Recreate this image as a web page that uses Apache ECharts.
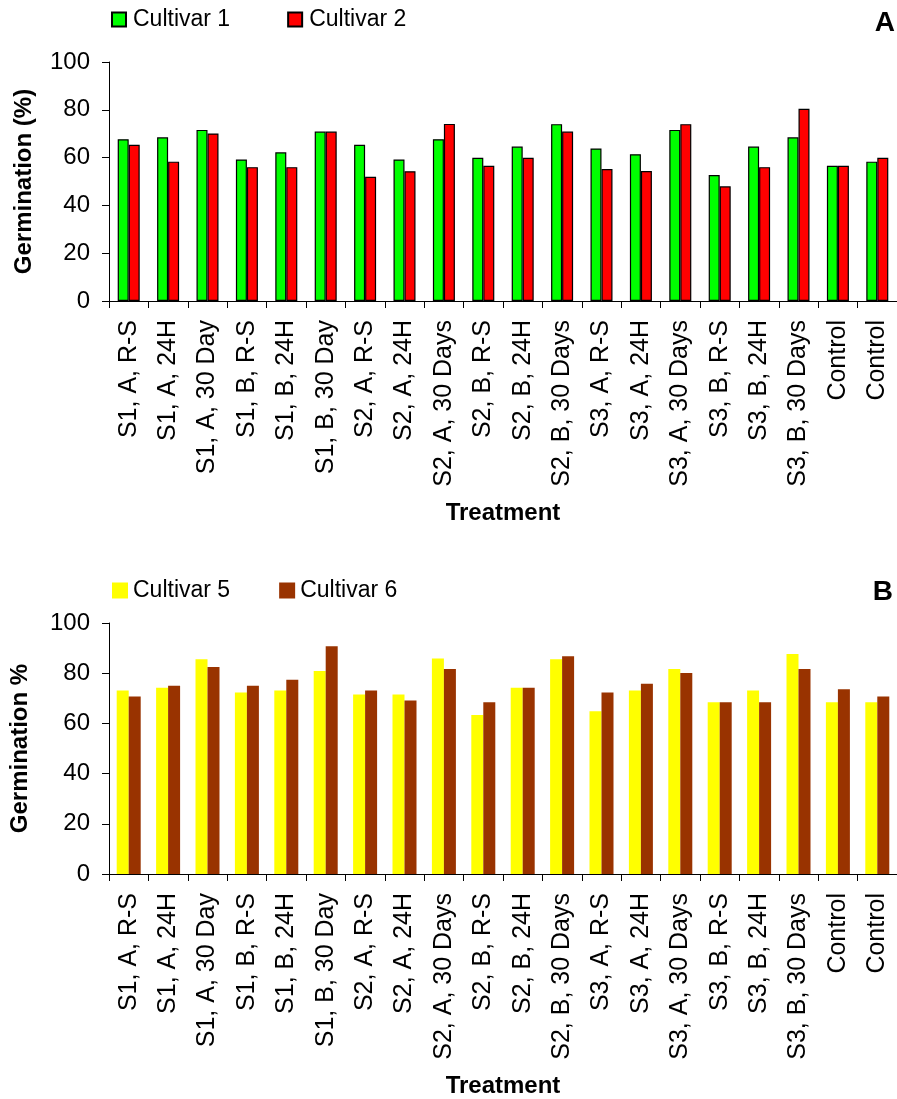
<!DOCTYPE html>
<html>
<head>
<meta charset="utf-8">
<script src="https://cdn.jsdelivr.net/npm/echarts@6/dist/echarts.min.js"></script>
<style>
  html, body { margin: 0; padding: 0; background: #ffffff; }
  #chart { width: 897px; height: 1099px; }
</style>
</head>
<body>
<div id="chart"></div>
<script>
// Treatment labels shared by both panels
const treatments = [
  'S1, A, R-S', 'S1, A, 24H', 'S1, A, 30 Day', 'S1, B, R-S', 'S1, B, 24H', 'S1, B, 30 Day',
  'S2, A, R-S', 'S2, A, 24H', 'S2, A, 30 Days', 'S2, B, R-S', 'S2, B, 24H', 'S2, B, 30 Days',
  'S3, A, R-S', 'S3, A, 24H', 'S3, A, 30 Days', 'S3, B, R-S', 'S3, B, 24H', 'S3, B, 30 Days',
  'Control', 'Control'
];

// Panel A: germination (%)
const cultivar1 = [67.7, 68.5, 71.6, 59.2, 62.2, 70.9, 65.4, 59.2, 67.7, 59.9,
                   64.6, 74.0, 63.8, 61.4, 71.6, 52.7, 64.6, 68.5, 56.6, 58.3];
const cultivar2 = [65.4, 58.3, 70.1, 56.0, 56.0, 70.9, 52.0, 54.3, 74.1, 56.6,
                   59.9, 70.9, 55.2, 54.4, 74.0, 48.0, 56.0, 80.4, 56.6, 59.9];

// Panel B: germination %
const cultivar5 = [73.1, 74.2, 85.6, 72.3, 73.1, 80.9, 71.5, 71.5, 85.9, 63.3,
                   74.2, 85.6, 64.8, 73.1, 81.7, 68.4, 73.1, 87.6, 68.4, 68.4];
const cultivar6 = [70.7, 75.0, 82.5, 75.0, 77.4, 90.7, 73.1, 69.1, 81.7, 68.4,
                   74.2, 86.8, 72.3, 75.8, 80.1, 68.4, 68.4, 81.7, 73.6, 70.7];

const yTicks = [0, 20, 40, 60, 80, 100];

const FONT = '"Liberation Sans", Arial, sans-serif';
const axisLine = { show: true, lineStyle: { color: '#000', width: 1 } };
const axisTick = { show: true, length: 7, lineStyle: { color: '#000', width: 1 } };

function categoryAxis(gridIndex) {
  return {
    type: 'category',
    gridIndex: gridIndex,
    data: treatments,
    axisLine: axisLine,
    axisTick: axisTick,
    axisLabel: {
      interval: 0, rotate: 90, margin: 19,
      fontFamily: FONT, fontSize: 25, color: '#000'
    },
    name: 'Treatment',
    nameLocation: 'middle',
    nameGap: 200,
    nameTextStyle: { fontFamily: FONT, fontSize: 24, fontWeight: 'bold', color: '#000' }
  };
}

function valueAxis(gridIndex, title, gap) {
  return {
    type: 'value',
    gridIndex: gridIndex,
    min: yTicks[0],
    max: yTicks[yTicks.length - 1],
    interval: yTicks[1] - yTicks[0],
    splitLine: { show: false },
    axisLine: axisLine,
    axisTick: axisTick,
    axisLabel: { margin: 19, fontFamily: FONT, fontSize: 24, color: '#000' },
    name: title,
    nameLocation: 'middle',
    nameGap: gap,
    nameTextStyle: { fontFamily: FONT, fontSize: 24, fontWeight: 'bold', color: '#000' }
  };
}

const chart = echarts.init(document.getElementById('chart'), null, { renderer: 'canvas' });

chart.setOption({
  backgroundColor: '#ffffff',
  animation: false,
  title: [
    { text: 'A', right: 2, top: 9, padding: 0,
      textStyle: { fontFamily: FONT, fontSize: 28, fontWeight: 'bold', color: '#000' } },
    { text: 'B', right: 4, top: 578, padding: 0,
      textStyle: { fontFamily: FONT, fontSize: 28, fontWeight: 'bold', color: '#000' } }
  ],
  legend: [
    {
      data: ['Cultivar 1', 'Cultivar 2'],
      left: 111, top: 8, padding: 0,
      itemWidth: 14, itemHeight: 14, itemGap: 57,
      icon: 'rect',
      textStyle: { fontFamily: FONT, fontSize: 23, color: '#000', padding: [0, 0, 0, 2] }
    },
    {
      data: ['Cultivar 5', 'Cultivar 6'],
      left: 112, top: 579, padding: 0,
      itemWidth: 16, itemHeight: 16, itemGap: 49,
      icon: 'rect',
      textStyle: { fontFamily: FONT, fontSize: 23, color: '#000' }
    }
  ],
  grid: [
    { left: 109, top: 62, width: 794, height: 239 },
    { left: 103, top: 623, width: 800, height: 255 }
  ],
  xAxis: [categoryAxis(0), categoryAxis(1)],
  yAxis: [valueAxis(0, 'Germination (%)', 73), valueAxis(1, 'Germination %', 77)],
  series: [
    {
      name: 'Cultivar 1', type: 'bar', xAxisIndex: 0, yAxisIndex: 0,
      data: cultivar1, barWidth: 11, barGap: '0%',
      itemStyle: { color: '#00ff00', borderColor: '#000', borderWidth: 1.2 }
    },
    {
      name: 'Cultivar 2', type: 'bar', xAxisIndex: 0, yAxisIndex: 0,
      data: cultivar2, barWidth: 11, barGap: '0%',
      itemStyle: { color: '#ff0000', borderColor: '#000', borderWidth: 1.2 }
    },
    {
      name: 'Cultivar 5', type: 'bar', xAxisIndex: 1, yAxisIndex: 1,
      data: cultivar5, barWidth: 12, barGap: '0%',
      itemStyle: { color: '#ffff00' }
    },
    {
      name: 'Cultivar 6', type: 'bar', xAxisIndex: 1, yAxisIndex: 1,
      data: cultivar6, barWidth: 12, barGap: '0%',
      itemStyle: { color: '#993300' }
    }
  ]
});
</script>
</body>
</html>
